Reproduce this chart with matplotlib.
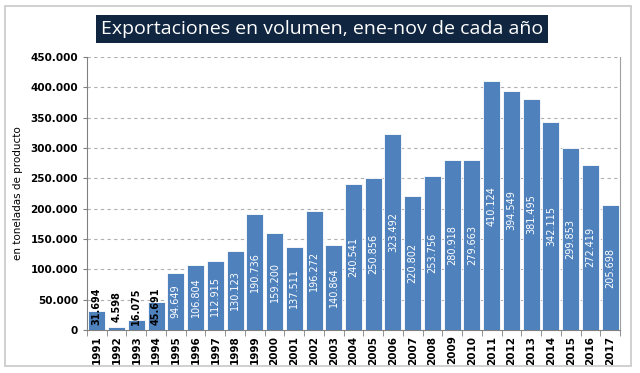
import matplotlib.pyplot as plt
from matplotlib.patches import Rectangle

#------------------------------------------------------------------------------
years = [str(y) for y in range(1991, 2018)]
volumen = [31694, 4598, 16075, 45691, 94649, 106804, 112915, 130123, 190736,
           159200, 137511, 196272, 140864, 240541, 250856, 323492, 220802,
           253756, 280918, 279663, 410124, 394549, 381495, 342115, 299853,
           272419, 205698]
etiquetas = ['31.694', '4.598', '16.075', '45.691', '94.649', '106.804',
             '112.915', '130.123', '190.736', '159.200', '137.511', '196.272',
             '140.864', '240.541', '250.856', '323.492', '220.802', '253.756',
             '280.918', '279.663', '410.124', '394.549', '381.495', '342.115',
             '299.853', '272.419', '205.698']
yticks = [0, 50000, 100000, 150000, 200000, 250000, 300000, 350000, 400000, 450000]
ytick_labels = ['0', '50.000', '100.000', '150.000', '200.000', '250.000',
                '300.000', '350.000', '400.000', '450.000']

#------------------------------------------------------------------------------
fig = plt.figure(figsize=(6.4, 3.73), dpi=100)
ax = fig.add_axes([87/640, 1 - 330/373, 533/640, 273/373])

x = list(range(len(years)))
ax.bar(x, volumen, width=0.86, color='#4F81BD', edgecolor='white', linewidth=0.6, zorder=3)

for i, v in enumerate(volumen):
    if i < 4:
        ax.text(i, 39000, etiquetas[i], rotation=90, ha='center', va='center',
                fontsize=7, fontweight='bold', color='black', zorder=4)
    else:
        ax.text(i, v / 2, etiquetas[i], rotation=90, ha='center', va='center',
                fontsize=7, color='white', zorder=4)

ax.set_xlim(-0.5, len(years) - 0.5)
ax.set_ylim(0, 450000)
ax.set_yticks(yticks)
ax.set_yticklabels(ytick_labels, fontsize=7.5, fontweight='bold')
ax.set_xticks(x)
ax.set_xticklabels(years, rotation=90, fontsize=7.5, fontweight='bold')
ax.tick_params(axis='y', length=3, color='#808080')
ax.set_xticks([i - 0.5 for i in range(len(years) + 1)], minor=True)
ax.tick_params(axis='x', which='major', length=0, pad=4)
ax.tick_params(axis='x', which='minor', length=4, color='#808080')
ax.yaxis.grid(True, linestyle=(0, (3, 3)), color='#B0B0B0', linewidth=0.8, zorder=0)

ax.spines['top'].set_visible(False)
ax.spines['right'].set_color('#A0A0A0')
ax.spines['left'].set_color('#808080')
ax.spines['bottom'].set_color('#808080')

ax.set_ylabel('en toneladas de producto', fontsize=7.5)
ax.yaxis.set_label_coords(-0.12, 0.5)

# marco exterior
fig.patches.append(Rectangle((5/640, 7/373), 626/640, 360/373, transform=fig.transFigure,
                             fill=False, edgecolor='#C8C8C8', linewidth=1.2))

fig.text(322/640, 1 - 29/373, 'Exportaciones en volumen, ene-nov de cada año',
         ha='center', va='center', fontsize=14, color='white', family='Open Sans',
         bbox=dict(boxstyle='square,pad=0.25', facecolor='#10253F', edgecolor='none'))

fig.savefig('out.png', dpi=100)
